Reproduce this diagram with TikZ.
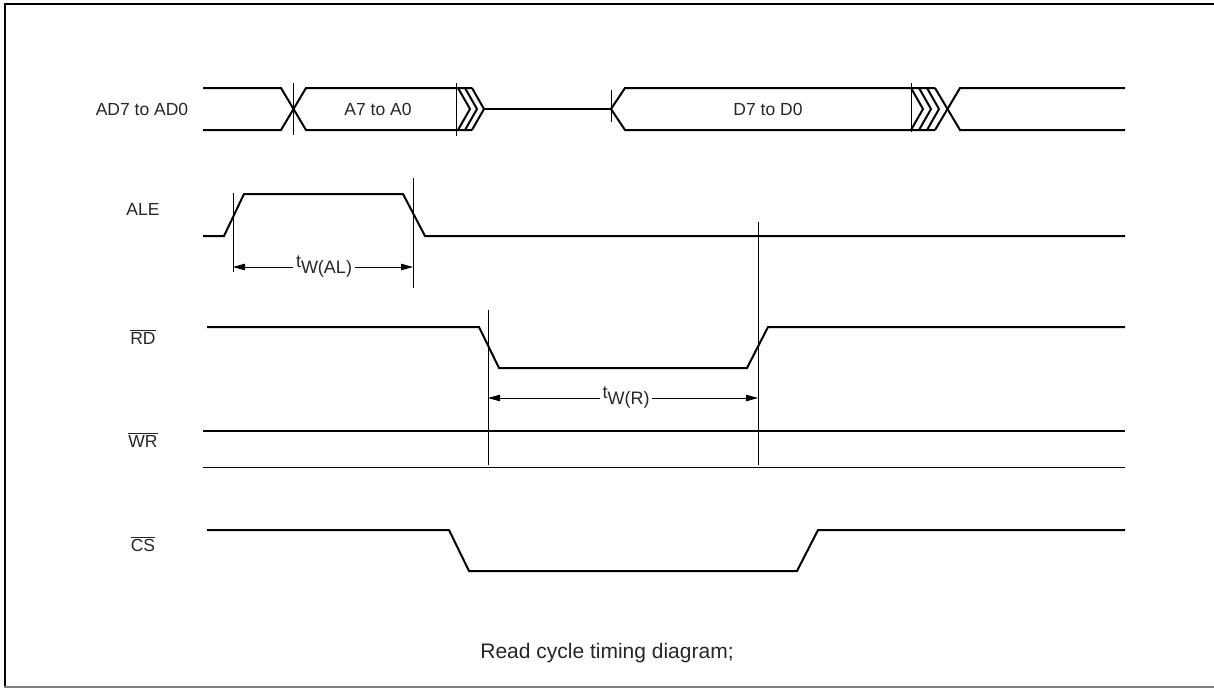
\documentclass[tikz,border=0pt]{standalone}
\usepackage{fontspec}
\setmainfont{Liberation Sans}
\usetikzlibrary{arrows.meta}
\begin{document}
\begin{tikzpicture}[x=1pt,y=-1pt,
  sig/.style={line width=2pt, line join=miter},
  tick/.style={line width=0.9pt},
  thinsig/.style={line width=1pt},
  dim/.style={line width=0.9pt, {Triangle[length=12pt,width=6.5pt]}-{Triangle[length=12pt,width=6.5pt]}},
  lbl/.style={font=\fontsize{17.5}{20}\selectfont, text=black!85, inner sep=0pt},
  dimlbl/.style={font=\fontsize{18}{20}\selectfont, text=black!85, fill=white, inner xsep=3pt, inner ysep=1pt},
  caplbl/.style={font=\fontsize{21}{24}\selectfont, text=black!85, inner sep=0pt},
]
\useasboundingbox (0,0) rectangle (1214,688);
% frame
\draw[line width=2pt] (5,687) -- (5,4) -- (1214,4);
\draw[line width=2pt, gray] (4,687) -- (1214,687);

% labels
\node[lbl] (lad) at (142,109) {AD7 to AD0};
\node[lbl] (lale) at (143,209) {ALE};
\node[lbl] (lrd) at (143,337) {$\overline{\mbox{RD}}$};
\node[lbl] (lwr) at (143,440) {$\overline{\mbox{WR}}$};
\node[lbl] (lcs) at (143,544) {$\overline{\mbox{CS}}$};

% AD bus
\draw[sig] (203,88) -- (281,88) -- (306,130) -- (472,130);
\draw[sig] (203,130) -- (281,130) -- (306,88) -- (472,88);
\draw[sig] (458,88) -- (470,109) -- (458,130);
\draw[sig] (465,88) -- (477,109) -- (465,130);
\draw[sig] (472,88) -- (484,109) -- (472,130);
\draw[sig] (484,109) -- (611,109);
\draw[sig] (611,109) -- (625,88) -- (935,88);
\draw[sig] (611,109) -- (625,130) -- (935,130);
\draw[sig] (911,88) -- (923,109) -- (911,130);
\draw[sig] (919,88) -- (931,109) -- (919,130);
\draw[sig] (927,88) -- (939,109) -- (927,130);
\draw[sig] (935,88) -- (960,130) -- (1125,130);
\draw[sig] (935,130) -- (960,88) -- (1125,88);
\node[lbl] (la) at (378,109) {A7 to A0};
\node[lbl] (ld) at (768,109) {D7 to D0};
\draw[tick] (293,83) -- (293,135);
\draw[tick] (456,83) -- (456,136);
\draw[tick] (611,90) -- (611,122);
\draw[tick] (911,83) -- (911,132);

% ALE
\draw[sig] (203,236) -- (224,236) -- (244,194) -- (403,194) -- (425,236) -- (1125,236);
\coordinate (a1t) at (233,193);
\coordinate (a1b) at (233,272);
\coordinate (a2t) at (413,178);
\coordinate (a2b) at (413,288);
\draw[tick] (a1t) -- (a1b);
\draw[tick] (a2t) -- (a2b);
\coordinate (da1) at (233,267);
\coordinate (da2) at (413,267);
\draw[dim] (da1) -- (da2);
\node[dimlbl] (tal) at (324,267) {t\raisebox{-6pt}{W(AL)}};

% RD
\draw[sig] (207,327) -- (479,327) -- (499,368) -- (747,368) -- (768,327) -- (1125,327);
\coordinate (r1t) at (488,310);
\coordinate (r1b) at (488,465);
\coordinate (r2t) at (758,222);
\coordinate (r2b) at (758,465);
\draw[tick] (r1t) -- (r1b);
\draw[tick] (r2t) -- (r2b);
\coordinate (dr1) at (488,398);
\coordinate (dr2) at (758,398);
\draw[dim] (dr1) -- (dr2);
\node[dimlbl] (tr) at (626,398) {t\raisebox{-6pt}{W(R)}};

% WR
\draw[sig] (203,431) -- (1125,431);
\draw[thinsig] (203,467) -- (1125,467);

% CS
\draw[sig] (207,530) -- (449,530) -- (469,571) -- (797,571) -- (818,530) -- (1125,530);

% caption
\node[caplbl] (cap) at (607,653) {Read cycle timing diagram;};
\end{tikzpicture}
\end{document}
